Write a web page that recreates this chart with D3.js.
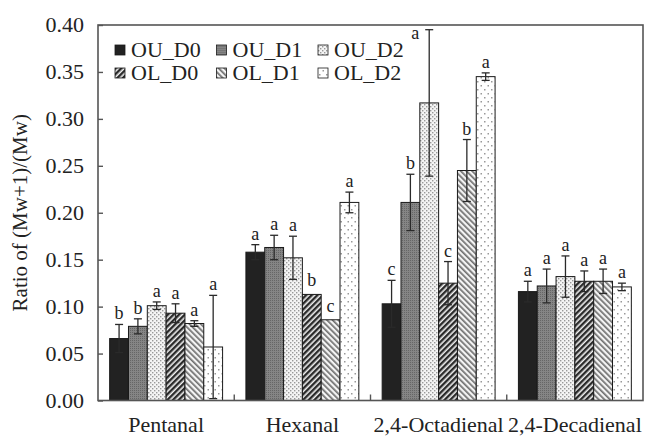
<!DOCTYPE html>
<html lang="en">
<head>
    <meta charset="UTF-8">
    <title>Ratio of (Mw+1)/(Mw)</title>
    <script src="https://d3js.org/d3.v7.min.js"></script>
    <style>
        html, body {
            margin: 0;
            padding: 0;
            background: #fff;
            overflow: hidden;
        }
        svg text {
            font-family: "Liberation Serif", "Times New Roman", serif;
            fill: #222;
        }
    </style>
</head>
<body>
    <svg id="chart" width="647" height="436"></svg>

    <script>
        // aldehydes on the x axis
        const categories = ["Pentanal", "Hexanal", "2,4-Octadienal", "2,4-Decadienal"];
        const series = ["OU_D0", "OU_D1", "OU_D2", "OL_D0", "OL_D1", "OL_D2"];
        const yTicks = [0, 0.05, 0.10, 0.15, 0.20, 0.25, 0.30, 0.35, 0.40];

        // one row per series, one value per category
        const means = [
            [0.066, 0.158, 0.103, 0.116],
            [0.079, 0.163, 0.211, 0.122],
            [0.101, 0.152, 0.317, 0.132],
            [0.093, 0.113, 0.125, 0.127],
            [0.082, 0.086, 0.245, 0.127],
            [0.057, 0.211, 0.345, 0.121]
        ];
        const errors = [
            [0.015, 0.008, 0.025, 0.011],
            [0.008, 0.013, 0.030, 0.018],
            [0.004, 0.023, 0.078, 0.022],
            [0.010, 0.000, 0.023, 0.011],
            [0.003, 0.000, 0.033, 0.013],
            [0.055, 0.011, 0.004, 0.004]
        ];
        const letters = [
            ["b", "a", "c", "a"],
            ["b", "a", "b", "a"],
            ["a", "a", "a", "a"],
            ["a", "b", "c", "a"],
            ["a", "c", "b", "a"],
            ["a", "a", "a", "a"]
        ];

        const svg = d3.select("#chart");
        const plotLeft = 98, plotRight = 643, plotTop = 25, plotBottom = 400.5;

        // patterns for the bar fills
        const defs = svg.append("defs");
        function pattern(id, w, h, transform) {
            const p = defs.append("pattern")
                .attr("id", id)
                .attr("patternUnits", "userSpaceOnUse")
                .attr("width", w)
                .attr("height", h);
            if (transform) p.attr("patternTransform", transform);
            return p;
        }

        let p = pattern("ou_d1", 2, 2);
        p.append("rect").attr("width", 2).attr("height", 2).attr("fill", "#858585");
        p.append("rect").attr("width", 1).attr("height", 1).attr("fill", "#666");

        p = pattern("ou_d2", 4, 4);
        p.append("rect").attr("width", 4).attr("height", 4).attr("fill", "#f4f4f4");
        p.append("rect").attr("x", 0).attr("y", 0).attr("width", 1.4).attr("height", 1.4).attr("fill", "#999");
        p.append("rect").attr("x", 2).attr("y", 2).attr("width", 1.4).attr("height", 1.4).attr("fill", "#999");

        p = pattern("ol_d0", 4, 4, "rotate(45)");
        p.append("rect").attr("width", 4).attr("height", 4).attr("fill", "#f0f0f0");
        p.append("rect").attr("width", 2.4).attr("height", 4).attr("fill", "#2a2a2a");

        p = pattern("ol_d1", 4, 4, "rotate(-45)");
        p.append("rect").attr("width", 4).attr("height", 4).attr("fill", "#f4f4f4");
        p.append("rect").attr("width", 1.7).attr("height", 4).attr("fill", "#707070");

        p = pattern("ol_d2", 7, 8);
        p.append("rect").attr("width", 7).attr("height", 8).attr("fill", "#fff");
        p.append("rect").attr("x", 1).attr("y", 1).attr("width", 1.5).attr("height", 1.5).attr("fill", "#999");
        p.append("rect").attr("x", 4.5).attr("y", 5).attr("width", 1.5).attr("height", 1.5).attr("fill", "#999");

        const fills = ["#222", "url(#ou_d1)", "url(#ou_d2)", "url(#ol_d0)", "url(#ol_d1)", "url(#ol_d2)"];

        const x0 = d3.scaleBand().domain(categories).range([plotLeft, plotRight]).paddingInner(0).paddingOuter(0);
        const x1 = d3.scaleBand().domain(series).range([0, x0.bandwidth()]).paddingInner(0).paddingOuter(0.62);
        const y = d3.scaleLinear().domain([0, 0.4]).range([plotBottom, plotTop]);

        // bars
        const groups = svg.append("g")
            .selectAll("g")
            .data(series)
            .enter().append("g");

        groups.each(function (s, si) {
            const g = d3.select(this);
            const rows = categories.map((c, ci) => ({
                c, v: means[si][ci], e: errors[si][ci], t: letters[si][ci]
            }));

            g.selectAll("rect")
                .data(rows)
                .enter().append("rect")
                .attr("x", d => x0(d.c) + x1(s))
                .attr("y", d => y(d.v))
                .attr("width", x1.bandwidth())
                .attr("height", d => y(0) - y(d.v))
                .attr("fill", fills[si])
                .attr("stroke", "#1a1a1a")
                .attr("stroke-width", 1);

            const cx = d => x0(d.c) + x1(s) + x1.bandwidth() / 2;

            const err = g.selectAll("g.err")
                .data(rows.filter(d => d.e > 0))
                .enter().append("g")
                .attr("class", "err")
                .attr("stroke", "#2a2a2a")
                .attr("stroke-width", 1.3);
            err.append("line")
                .attr("x1", cx).attr("x2", cx)
                .attr("y1", d => y(d.v - d.e)).attr("y2", d => y(d.v + d.e));
            err.append("line")
                .attr("x1", d => cx(d) - 4).attr("x2", d => cx(d) + 4)
                .attr("y1", d => y(d.v + d.e)).attr("y2", d => y(d.v + d.e));
            err.append("line")
                .attr("x1", d => cx(d) - 4).attr("x2", d => cx(d) + 4)
                .attr("y1", d => y(d.v - d.e)).attr("y2", d => y(d.v - d.e));

            // significance letters; pushed aside when the cap is close to the frame
            const nearTop = d => y(d.v + d.e) - 5 < plotTop + 12;
            g.selectAll("text")
                .data(rows)
                .enter().append("text")
                .attr("x", d => nearTop(d) ? cx(d) - 14 : cx(d))
                .attr("y", d => nearTop(d) ? y(d.v + d.e) + 9 : y(d.v + d.e) - (d.e > 0 ? 5 : 8))
                .attr("text-anchor", "middle")
                .attr("font-size", "18px")
                .text(d => d.t);
        });

        // frame
        svg.append("rect")
            .attr("x", plotLeft).attr("y", plotTop)
            .attr("width", plotRight - plotLeft).attr("height", plotBottom - plotTop)
            .attr("fill", "none")
            .attr("stroke", "#555")
            .attr("stroke-width", 1.6);

        // y axis, ticks pointing inward
        const yAxis = svg.append("g")
            .attr("transform", `translate(${plotLeft},0)`)
            .call(d3.axisRight(y).tickValues(yTicks).tickSize(5).tickFormat(""));
        yAxis.select(".domain").remove();
        yAxis.selectAll("line").attr("stroke", "#555").attr("stroke-width", 1.4);

        svg.append("g")
            .selectAll("text")
            .data(yTicks)
            .enter().append("text")
            .attr("x", 84)
            .attr("y", d => y(d) + 7)
            .attr("text-anchor", "end")
            .attr("font-size", "22px")
            .text(d => d3.format(".2f")(d));

        // x ticks between groups, pointing up
        svg.append("g")
            .selectAll("line")
            .data(categories.slice(1))
            .enter().append("line")
            .attr("x1", d => x0(d)).attr("x2", d => x0(d))
            .attr("y1", plotBottom).attr("y2", plotBottom - 6)
            .attr("stroke", "#555").attr("stroke-width", 1.4);

        // category labels
        svg.append("g")
            .selectAll("text")
            .data(categories)
            .enter().append("text")
            .attr("x", d => x0(d) + x0.bandwidth() / 2)
            .attr("y", 432)
            .attr("text-anchor", "middle")
            .attr("font-size", "22px")
            .text(d => d);

        // y title
        svg.append("text")
            .attr("transform", `translate(27,${(plotTop + plotBottom) / 2}) rotate(-90)`)
            .attr("text-anchor", "middle")
            .attr("font-size", "21px")
            .text("Ratio of (Mw+1)/(Mw)");

        // legend, two rows of three
        const legend = svg.append("g")
            .selectAll("g")
            .data(series)
            .enter().append("g")
            .attr("transform", (d, i) => `translate(${115 + (i % 3) * 101.5},${50 + Math.floor(i / 3) * 23})`);
        legend.append("rect")
            .attr("x", 0).attr("y", -5)
            .attr("width", 10).attr("height", 10)
            .attr("fill", (d, i) => fills[i])
            .attr("stroke", "#1a1a1a")
            .attr("stroke-width", 0.8);
        legend.append("text")
            .attr("x", 16)
            .attr("y", 7)
            .attr("font-size", "22px")
            .text(d => d);
    </script>
</body>
</html>
